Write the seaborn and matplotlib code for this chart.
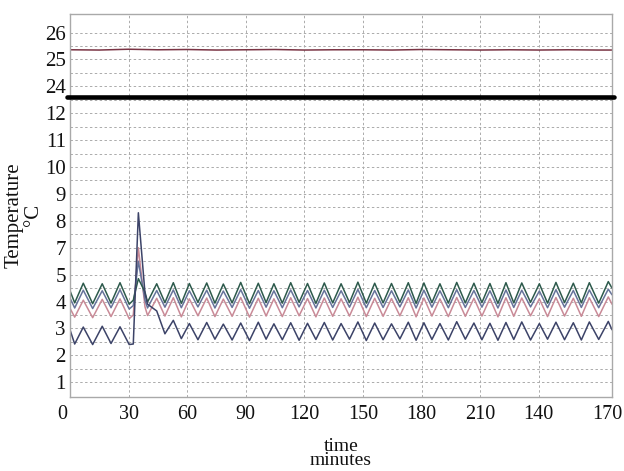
import matplotlib
matplotlib.use("Agg")
import numpy as np
import pandas as pd
import matplotlib.pyplot as plt
import seaborn as sns
from matplotlib.transforms import ScaledTranslation

# ---------------- data (y values are in the chart's plotted-position units) -------------
time_min = [0, 2.4, 6.8, 11.6, 16.5, 21.0, 25.6, 30.3, 32.4, 35.0, 38.4, 39.7,
            44.4, 48.6, 52.9, 57.0, 61.1, 65.5, 70.0, 74.2, 78.5, 83.0,
            87.4, 91.9, 96.4, 100.4, 104.4, 108.7, 113.0, 117.3, 121.6, 125.9,
            130.2, 134.5, 138.8, 143.1, 147.4, 151.7, 156.0, 160.3, 164.6, 168.9,
            173.2, 177.2, 181.2, 185.3, 189.4, 193.7, 198.0, 202.4, 206.8, 210.9,
            215.0, 219.1, 223.2, 227.2, 231.3, 235.8, 240.3, 244.5, 248.8, 253.2,
            257.7, 261.8, 265.9, 270.7, 275.6, 277.5]

green = [4.40, 3.95, 4.68, 3.92, 4.66, 3.94, 4.70, 3.90, 4.05, 4.85, 4.35, 3.98,
         4.66, 3.96, 4.70, 3.93, 4.67, 3.97, 4.69, 3.94, 4.65, 3.95,
         4.71, 3.92, 4.68, 3.96, 4.66, 3.94, 4.70, 3.97, 4.67, 3.93,
         4.69, 3.95, 4.66, 3.96, 4.72, 3.94, 4.68, 3.95, 4.67, 3.97,
         4.70, 3.93, 4.69, 3.96, 4.66, 3.94, 4.71, 3.95, 4.68, 3.96,
         4.67, 3.93, 4.70, 3.95, 4.69, 3.97, 4.66, 3.94, 4.71, 3.96,
         4.68, 3.95, 4.70, 3.94, 4.74, 4.50]

bluegray = [4.13, 3.76, 4.42, 3.74, 4.40, 3.77, 4.44, 3.72, 3.85, 5.50, 4.05, 3.76,
            4.41, 3.79, 4.43, 3.77, 4.40, 3.80, 4.42, 3.76, 4.39, 3.78,
            4.44, 3.75, 4.41, 3.79, 4.40, 3.77, 4.43, 3.80, 4.41, 3.76,
            4.42, 3.78, 4.40, 3.79, 4.45, 3.77, 4.41, 3.78, 4.40, 3.80,
            4.43, 3.76, 4.42, 3.79, 4.40, 3.77, 4.44, 3.78, 4.41, 3.79,
            4.40, 3.76, 4.43, 3.78, 4.42, 3.80, 4.39, 3.77, 4.44, 3.79,
            4.41, 3.78, 4.43, 3.77, 4.46, 4.25]

pink = [3.75, 3.42, 4.05, 3.40, 4.08, 3.44, 4.10, 3.36, 3.50, 6.00, 3.80, 3.48,
        4.12, 3.46, 4.14, 3.43, 4.10, 3.47, 4.13, 3.44, 4.09, 3.45,
        4.15, 3.42, 4.12, 3.46, 4.10, 3.44, 4.14, 3.47, 4.11, 3.43,
        4.13, 3.45, 4.10, 3.46, 4.16, 3.44, 4.12, 3.45, 4.11, 3.47,
        4.14, 3.43, 4.13, 3.46, 4.10, 3.44, 4.15, 3.45, 4.12, 3.46,
        4.11, 3.43, 4.14, 3.45, 4.13, 3.47, 4.10, 3.44, 4.15, 3.46,
        4.12, 3.45, 4.14, 3.44, 4.17, 3.90]

navy = [2.95, 2.42, 3.05, 2.40, 3.08, 2.44, 3.06, 2.40, 2.42, 7.30, 4.30, 3.90,
        3.65, 2.80, 3.30, 2.62, 3.18, 2.58, 3.22, 2.60, 3.16, 2.57,
        3.20, 2.55, 3.23, 2.60, 3.17, 2.58, 3.21, 2.56, 3.19, 2.59,
        3.22, 2.57, 3.18, 2.60, 3.24, 2.55, 3.20, 2.58, 3.17, 2.61,
        3.23, 2.56, 3.21, 2.59, 3.18, 2.57, 3.25, 2.60, 3.20, 2.58,
        3.19, 2.56, 3.22, 2.59, 3.24, 2.57, 3.18, 2.60, 3.23, 2.58,
        3.21, 2.57, 3.24, 2.59, 3.26, 2.95]

top_time = [0, 15, 30, 45, 60, 75, 90, 105, 120, 135, 150, 165, 180, 195,
            210, 225, 240, 255, 270, 277.5]
top_vals = [13.36, 13.35, 13.38, 13.36, 13.37, 13.35, 13.36, 13.37, 13.35, 13.36,
            13.36, 13.35, 13.37, 13.36, 13.35, 13.36, 13.35, 13.36, 13.35, 13.35]

xtick_pos = [0, 30, 60, 90, 120, 150, 180, 210, 240, 275]
xtick_labels = ["0", "30", "60", "90", "120", "150", "180", "210", "140", "170"]
ytick_pos = [1, 2, 3, 4, 5, 6, 7, 8, 9, 10, 11, 12, 13, 14]
ytick_labels = ["1", "2", "3", "4", "5", "7", "8", "9", "10", "11", "12", "24", "25", "26"]
break_level = 11.6

# ---------------- long-form table ----------------
frames = []
for name, t, v in [("top", top_time, top_vals), ("green", time_min, green),
                   ("bluegray", time_min, bluegray), ("pink", time_min, pink),
                   ("navy", time_min, navy)]:
    frames.append(pd.DataFrame({"time": t, "value": v, "series": name}))
df = pd.concat(frames, ignore_index=True)

palette = {"top": "#7a3444", "green": "#2d5a4c", "bluegray": "#66739a",
           "pink": "#c98a97", "navy": "#3c4368"}

sns.set_theme(style="white")
plt.rcParams["font.family"] = ["Liberation Serif", "DejaVu Serif"]

fig = plt.figure(figsize=(6.24, 4.71), dpi=100)
ax = fig.add_axes([70 / 624, 1 - 397 / 471, 542 / 624, 383 / 471])

sns.lineplot(data=df, x="time", y="value", hue="series", palette=palette,
             hue_order=["top", "pink", "bluegray", "green", "navy"],
             estimator=None, sort=False, legend=False, linewidth=1.1, ax=ax)

ax.set_xlim(0, 277.5)
ax.set_ylim(0.45, 14.69)

ax.xaxis.remove_overlapping_locs = False
ax.yaxis.remove_overlapping_locs = False

# labels (major ticks, no grid)
ax.set_xticks(xtick_pos)
ax.set_xticklabels(xtick_labels)
ax.set_yticks(ytick_pos)
ax.set_yticklabels(ytick_labels)

# grid on minor ticks
ax.set_xticks(np.arange(30, 241, 30), minor=True)
ax.set_yticks(np.arange(1, 14.01, 0.5), minor=True)
ax.grid(False)
ax.grid(which="minor", linestyle=(0, (2.5, 2.5)), color="#ababab", linewidth=0.7)
ax.set_axisbelow(True)

ax.tick_params(axis="y", which="major", labelsize=15, pad=3, length=0, colors="#111111")
ax.tick_params(axis="x", which="major", labelsize=14.5, pad=6, length=0, colors="#111111")
ax.tick_params(axis="y", which="minor", length=0)
ax.tick_params(axis="x", which="minor", direction="in", length=3, color="#9c9c9c", width=0.8)

# shift the "0" label left like in the reference
lab0 = ax.get_xticklabels()[0]
lab0.set_transform(lab0.get_transform() + ScaledTranslation(-8 / 100, 0, fig.dpi_scale_trans))

for s in ax.spines.values():
    s.set_color("#a9a9a9")
    s.set_linewidth(1.0)

# axis-break bar
ax.axhline(break_level, xmin=-0.006, xmax=1.004, color="black", linewidth=3.3,
           clip_on=False, solid_capstyle="round", zorder=5)

ax.set_xlabel("time\nminutes", fontsize=14, labelpad=9.5, linespacing=0.78, color="#111111")
ax.set_ylabel("Temperature\n°C", fontsize=15, linespacing=1.0, color="#111111")
ax.yaxis.set_label_coords(-0.05, 0.475)

fig.savefig("out.png", dpi=100)
